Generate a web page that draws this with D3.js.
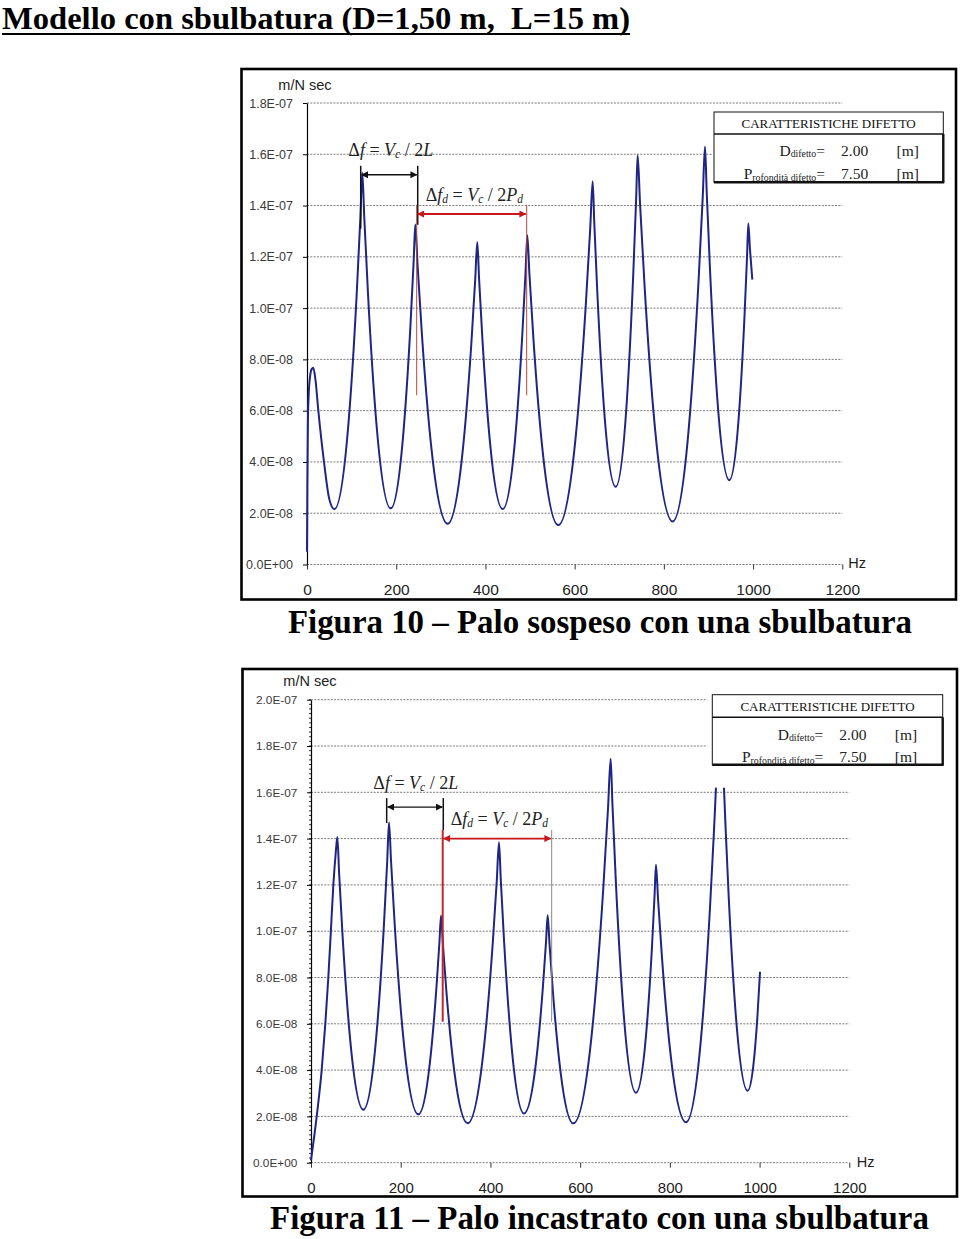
<!DOCTYPE html>
<html><head><meta charset="utf-8">
<script src="https://cdn.jsdelivr.net/npm/d3@7"></script>
<style>
html,body{margin:0;padding:0;background:#fff;}
svg{display:block;}
</style></head>
<body>
<svg id="c" width="960" height="1239"></svg>
<script>
// ---------------- DATA ----------------
const titleText = "Modello con sbulbatura (D=1,50 m,  L=15 m)";
const caption1 = "Figura 10 \u2013 Palo sospeso con una sbulbatura";
const caption2 = "Figura 11 \u2013 Palo incastrato con una sbulbatura";

const xTicks = [0, 200, 400, 600, 800, 1000, 1200];
const yTicks1 = [0, 2e-8, 4e-8, 6e-8, 8e-8, 1.0e-7, 1.2e-7, 1.4e-7, 1.6e-7, 1.8e-7];
const yLabels1 = ["0.0E+00","2.0E-08","4.0E-08","6.0E-08","8.0E-08","1.0E-07","1.2E-07","1.4E-07","1.6E-07","1.8E-07"];
const yTicks2 = [0, 2e-8, 4e-8, 6e-8, 8e-8, 1.0e-7, 1.2e-7, 1.4e-7, 1.6e-7, 1.8e-7, 2.0e-7];
const yLabels2 = ["0.0E+00","2.0E-08","4.0E-08","6.0E-08","8.0E-08","1.0E-07","1.2E-07","1.4E-07","1.6E-07","1.8E-07","2.0E-07"];

// Figura 10 - frequency (Hz) and mobility (m/N sec)
const hz1 = [0,0.8,2,4,7,10.5,14.2,19,25.4,38.1,50,61.3,92.65,111.46,119.61,124,128.45,136.72,155.8,187.6,
  215.2,231.76,238.94,242.8,247.87,257.3,279.05,315.3,348.5,368.42,377.05,381.7,385.69,393.1,410.2,438.7,
  466.25,482.78,489.94,493.8,498.66,507.7,528.55,563.3,601.85,624.98,635,640.4,644,650.7,666.15,691.9,
  716.55,731.34,737.75,741.2,746.7,756.9,780.45,819.7,855.95,877.7,887.13,892.2,896.02,903.12,919.5,946.8,
  968.05,980.8,986.33,989.3,993,998.3];
const mob1 = [0.5e-8,3.0e-8,5.5e-8,6.7e-8,7.35e-8,7.62e-8,7.67e-8,7.2e-8,6.0e-8,4.0e-8,2.55e-8,2.16e-8,5.44e-8,10.56e-8,13.51e-8,15.28e-8,13.51e-8,10.57e-8,5.46e-8,2.19e-8,
  4.96e-8,9.27e-8,11.77e-8,13.26e-8,11.68e-8,9.06e-8,4.51e-8,1.59e-8,4.34e-8,8.62e-8,11.10e-8,12.58e-8,11.17e-8,8.83e-8,4.77e-8,2.16e-8,
  4.83e-8,9.00e-8,11.40e-8,12.84e-8,11.31e-8,8.77e-8,4.37e-8,1.54e-8,4.89e-8,10.12e-8,13.14e-8,14.95e-8,13.34e-8,10.66e-8,6.01e-8,3.03e-8,
  6.26e-8,11.31e-8,14.21e-8,15.96e-8,14.03e-8,10.82e-8,5.25e-8,1.68e-8,5.34e-8,11.04e-8,14.33e-8,16.3e-8,14.54e-8,11.62e-8,6.54e-8,3.29e-8,
  5.79e-8,9.70e-8,11.95e-8,13.3e-8,12.3e-8,11.11e-8];

// Figura 11 - frequency (Hz) and mobility (m/N sec); NaN = gap at the top of the 8th peak
const hz2 = [0,12.7,23.8,31.9,38.6,44.3,49.8,55.2,58.7,62.76,70.3,87.7,116.7,145.3,162.46,169.9,173.9,178.48,186.98,206.6,239.3,
  264.55,279.7,286.27,289.8,293.96,301.68,319.5,349.2,384.15,405.12,414.21,419.1,423,430.24,446.95,474.8,
  501.2,517.04,523.9,527.6,531.6,539.02,556.15,584.7,626.35,651.34,662.17,668,671.95,679.3,696.25,724.5,
  746.75,760.1,765.89,769,773.69,782.4,802.5,836,869.4,889.44,898.12,902.8,911,920.6,924.3,931.16,947,973.4,
  987,995,1001];
const mob2 = [0.1e-8,2.0e-8,4.0e-8,6.0e-8,8.0e-8,10.0e-8,12.0e-8,13.4e-8,14.07e-8,12.48e-8,9.83e-8,5.24e-8,2.29e-8,5.39e-8,10.23e-8,13.02e-8,14.70e-8,13.00e-8,10.16e-8,5.24e-8,2.09e-8,
  4.24e-8,7.58e-8,9.51e-8,10.67e-8,9.46e-8,7.44e-8,3.94e-8,1.70e-8,4.74e-8,9.47e-8,12.20e-8,13.84e-8,12.26e-8,9.62e-8,5.06e-8,2.13e-8,
  4.27e-8,7.61e-8,9.53e-8,10.69e-8,9.48e-8,7.45e-8,3.95e-8,1.70e-8,5.64e-8,11.78e-8,15.32e-8,17.45e-8,15.50e-8,12.26e-8,6.63e-8,3.02e-8,
  5.48e-8,9.32e-8,11.54e-8,12.87e-8,11.37e-8,8.87e-8,4.53e-8,1.75e-8,5.36e-8,11.00e-8,14.25e-8,16.2e-8,NaN,16.2e-8,14.43e-8,11.49e-8,6.38e-8,3.11e-8,
  4.36e-8,6.26e-8,8.25e-8];

// Annotation marks (Hz / m/N sec)
const ann1 = {dfHz:[120.4,248.2], dfVal:1.52e-7, dfTop:1.555e-7, dfBot:[1.31e-7,1.325e-7],
              dfdHz:[245.9,492.5], dfdVal:1.367e-7, dfdTop:1.403e-7, dfdBot:6.6e-8,
              txt1:[92.6,1.618e-7], txt2:[266.1,1.442e-7]};
const ann2 = {dfHz:[168.7,294.9], dfVal:1.536e-7, dfTop:1.575e-7, dfBot:[1.467e-7,1.437e-7],
              dfdHz:[293.6,536.5], dfdVal:1.40e-7, dfdTop:1.438e-7, dfdBot:6.09e-8,
              txt1:[138.9,1.640e-7], txt2:[311.4,1.486e-7]};

const legendTitle = "CARATTERISTICHE DIFETTO";
const legendRows = [["D","difetto","2.00","[m]"],["P","rofondit\u00e0 difetto","7.50","[m]"]];

// ---------------- DRAW ----------------
const svg = d3.select("#c");
const SERIF = "'Liberation Serif','Times New Roman',serif";
const SANS = "'Liberation Sans',Arial,sans-serif";
const defs = svg.append("defs");
function marker(id, color){
  defs.append("marker").attr("id",id).attr("viewBox","0 0 10 10").attr("refX",9).attr("refY",5)
    .attr("markerWidth",9).attr("markerHeight",7).attr("markerUnits","userSpaceOnUse")
    .attr("orient","auto-start-reverse")
    .append("path").attr("d","M0,0L10,5L0,10z").attr("fill",color);
}
marker("arrK","#111");
marker("arrR","#c8161a");

// title
const t = svg.append("text").attr("x",2).attr("y",29)
  .attr("font-family",SERIF).attr("font-weight","bold").attr("font-size",32.6)
  .attr("fill","#000").style("white-space","pre").text(titleText);
const tw = t.node().getComputedTextLength();
svg.append("line").attr("x1",2).attr("x2",2+tw).attr("y1",34).attr("y2",34)
  .attr("stroke","#000").attr("stroke-width",2.2);

function mathText(g, xx, yy, parts){
  const tx = g.append("text").attr("x",xx).attr("y",yy).attr("font-family",SERIF)
    .attr("font-size",18).attr("fill","#222").attr("dominant-baseline","central").style("white-space","pre");
  parts.forEach(p=>{
    const s = tx.append("tspan").text(p.t);
    if(p.i) s.attr("font-style","italic");
    if(p.sub){ s.attr("font-size",11.5).attr("dy",4); }
    if(p.up){ s.attr("dy",-4); }
  });
}

function drawChart(o){
  const g = svg.append("g");
  const x = d3.scaleLinear().domain([0,1200]).range(o.xr);
  const y = d3.scaleLinear().domain([0,o.yMax]).range(o.yr);

  g.append("rect").attr("x",o.frame[0]).attr("y",o.frame[1]).attr("width",o.frame[2]).attr("height",o.frame[3])
    .attr("fill","#fff").attr("stroke","#000").attr("stroke-width",2.6);

  // gridlines
  g.append("g").selectAll("line").data(o.yTicks).join("line")
    .attr("x1",x(0)).attr("x2",x(1200)).attr("y1",d=>y(d)).attr("y2",d=>y(d))
    .attr("stroke","#7a7a7a").attr("stroke-dasharray","2,1.3").attr("stroke-width",1);

  // y axis
  const ya = d3.axisLeft(y).tickValues(o.yTicks).tickFormat((d,i)=>o.yLabels[i]).tickSize(4).tickSizeOuter(0);
  const yg = g.append("g").attr("transform",`translate(${x(0)},0)`).call(ya);
  yg.select(".domain").attr("stroke","#000").attr("stroke-width",1.2);
  yg.selectAll(".tick line").attr("stroke","#000");
  yg.selectAll(".tick text").attr("x",o.yLabX).attr("font-family",SANS).attr("font-size",o.yFont).attr("fill","#3a3a3a");
  if(o.minor){
    const mins = d3.range(0, o.yMax+1e-12, 2e-9);
    g.append("g").selectAll("line").data(mins).join("line")
      .attr("x1",x(0)-2).attr("x2",x(0)).attr("y1",d=>y(d)).attr("y2",d=>y(d))
      .attr("stroke","#000").attr("stroke-width",0.8);
  }

  // x axis
  const xa = d3.axisBottom(x).tickValues(xTicks).tickFormat(d=>String(d)).tickSize(5).tickSizeOuter(0);
  const xg = g.append("g").attr("transform",`translate(0,${y(0)})`).call(xa);
  xg.select(".domain").remove();
  xg.selectAll(".tick line").attr("stroke","#333");
  xg.selectAll(".tick text").attr("y",o.xLabDy).attr("dy","0.35em").attr("font-family",SANS)
    .attr("font-size",o.xFont).attr("fill","#222");

  // units
  g.append("text").attr("x",o.unitY[0]).attr("y",o.unitY[1]).attr("dominant-baseline","central")
    .attr("font-family",SANS).attr("font-size",14.5).attr("fill","#222").text("m/N sec");
  g.append("text").attr("x",o.unitX[0]).attr("y",o.unitX[1]).attr("dominant-baseline","central")
    .attr("font-family",SANS).attr("font-size",14.5).attr("fill","#222").text("Hz");

  // legend box
  const L = o.leg;
  g.append("rect").attr("x",L.x-L.pad).attr("y",L.y-L.pad).attr("width",L.w+2*L.pad).attr("height",L.h+2*L.pad).attr("fill","#fff");
  g.append("rect").attr("x",L.x).attr("y",L.y).attr("width",L.w).attr("height",L.h)
    .attr("fill","#fff").attr("stroke","#111").attr("stroke-width",1);
  g.append("line").attr("x1",L.x).attr("x2",L.x+L.w).attr("y1",L.y+L.hh).attr("y2",L.y+L.hh)
    .attr("stroke","#111").attr("stroke-width",1.6);
  g.append("line").attr("x1",L.x).attr("x2",L.x+L.w+1).attr("y1",L.y+L.h).attr("y2",L.y+L.h)
    .attr("stroke","#111").attr("stroke-width",2.6);
  g.append("line").attr("x1",L.x+L.w).attr("x2",L.x+L.w).attr("y1",L.y+L.hh).attr("y2",L.y+L.h)
    .attr("stroke","#111").attr("stroke-width",2.4);
  g.append("text").attr("x",L.x+L.w/2).attr("y",L.y+L.hh/2+0.5).attr("text-anchor","middle")
    .attr("dominant-baseline","central").attr("font-family",SERIF).attr("font-size",13)
    .attr("fill","#111").text(legendTitle);
  legendRows.forEach((r,i)=>{
    const by = L.y + L.rows[i];
    const lt = g.append("text").attr("x",L.x+111).attr("y",by).attr("text-anchor","end")
      .attr("font-family",SERIF).attr("font-size",15.5).attr("fill","#222");
    lt.append("tspan").text(r[0]);
    lt.append("tspan").attr("font-size",9.8).attr("dy",1.5).text(r[1]);
    lt.append("tspan").attr("dy",-1.5).text("=");
    g.append("text").attr("x",L.x+127).attr("y",by).attr("font-family",SERIF).attr("font-size",15.5)
      .attr("fill","#222").text(r[2]);
    g.append("text").attr("x",L.x+182.5).attr("y",by).attr("font-family",SERIF).attr("font-size",15.5)
      .attr("fill","#222").text(r[3]);
  });

  // curve
  const pts = o.hz.map((f,i)=>({f, v:o.mob[i]}));
  const line = d3.line().defined(d=>!isNaN(d.v)).x(d=>x(d.f)).y(d=>y(d.v)).curve(d3.curveMonotoneX);
  g.append("path").datum(pts).attr("d",line).attr("fill","none")
    .attr("stroke","#1e2585").attr("stroke-width",2).attr("stroke-linejoin","round");

  // annotations
  const A = o.ann;
  A.dfHz.forEach((f,i)=>{
    g.append("line").attr("x1",x(f)).attr("x2",x(f)).attr("y1",y(A.dfTop)).attr("y2",y(A.dfBot[i]))
      .attr("stroke","#111").attr("stroke-width",1.5);
  });
  A.dfdHz.forEach((f,i)=>{
    const thick = o.redThick && i===0;
    g.append("line").attr("x1",x(f)).attr("x2",x(f)).attr("y1",y(A.dfdTop)).attr("y2",y(A.dfdBot))
      .attr("stroke", i===0 ? (thick ? "#c0262a" : "#b5473f") : o.rightCol)
      .attr("stroke-width", thick ? 2 : 1);
  });
  g.append("line").attr("x1",x(A.dfHz[0])+1).attr("x2",x(A.dfHz[1])-1).attr("y1",y(A.dfVal)).attr("y2",y(A.dfVal))
    .attr("stroke","#111").attr("stroke-width",1.4).attr("marker-start","url(#arrK)").attr("marker-end","url(#arrK)");
  g.append("line").attr("x1",x(A.dfdHz[0])+1).attr("x2",x(A.dfdHz[1])-1).attr("y1",y(A.dfdVal)).attr("y2",y(A.dfdVal))
    .attr("stroke","#c8161a").attr("stroke-width",1.8).attr("marker-start","url(#arrR)").attr("marker-end","url(#arrR)");
  mathText(g, x(A.txt1[0]), y(A.txt1[1]), [{t:"\u0394"},{t:"f",i:1},{t:" = "},{t:"V",i:1},{t:"c",i:1,sub:1},{t:" / 2",up:1},{t:"L",i:1}]);
  mathText(g, x(A.txt2[0]), y(A.txt2[1]), [{t:"\u0394"},{t:"f",i:1},{t:"d",i:1,sub:1},{t:" = ",up:1},{t:"V",i:1},{t:"c",i:1,sub:1},{t:" / 2",up:1},{t:"P",i:1},{t:"d",i:1,sub:1}]);
}

drawChart({
  frame:[241.5,69,714.5,530.5], xr:[307,842.3], yr:[564.5,103], yMax:1.8e-7,
  yTicks:yTicks1, yLabels:yLabels1, yLabX:-14, yFont:12.5, xLabDy:25, xFont:15.5,
  unitY:[278.3,84.7], unitX:[848.3,562.7], minor:false,
  leg:{x:714,y:112,w:229.3,h:70.3,hh:22,pad:1,rows:[43.7,67]},
  hz:hz1, mob:mob1, ann:ann1, redThick:false, rightCol:"#b5473f"
});
drawChart({
  frame:[242.5,669,714.5,527.5], xr:[311,849.3], yr:[1162.7,699.7], yMax:2.0e-7,
  yTicks:yTicks2, yLabels:yLabels2, yLabX:-13.7, yFont:11.8, xLabDy:25.5, xFont:15,
  unitY:[283.3,681.3], unitX:[856.7,1161.7], minor:true,
  leg:{x:712.3,y:694.7,w:230.4,h:70,hh:22.6,pad:5,rows:[45,67.6]},
  hz:hz2, mob:mob2, ann:ann2, redThick:true, rightCol:"#8a8a8a"
});

// captions
svg.append("text").attr("x",600).attr("y",633).attr("text-anchor","middle")
  .attr("font-family",SERIF).attr("font-weight","bold").attr("font-size",32.9).attr("fill","#000").text(caption1);
svg.append("text").attr("x",599.5).attr("y",1229).attr("text-anchor","middle")
  .attr("font-family",SERIF).attr("font-weight","bold").attr("font-size",32.9).attr("fill","#000").text(caption2);
</script>
</body></html>
